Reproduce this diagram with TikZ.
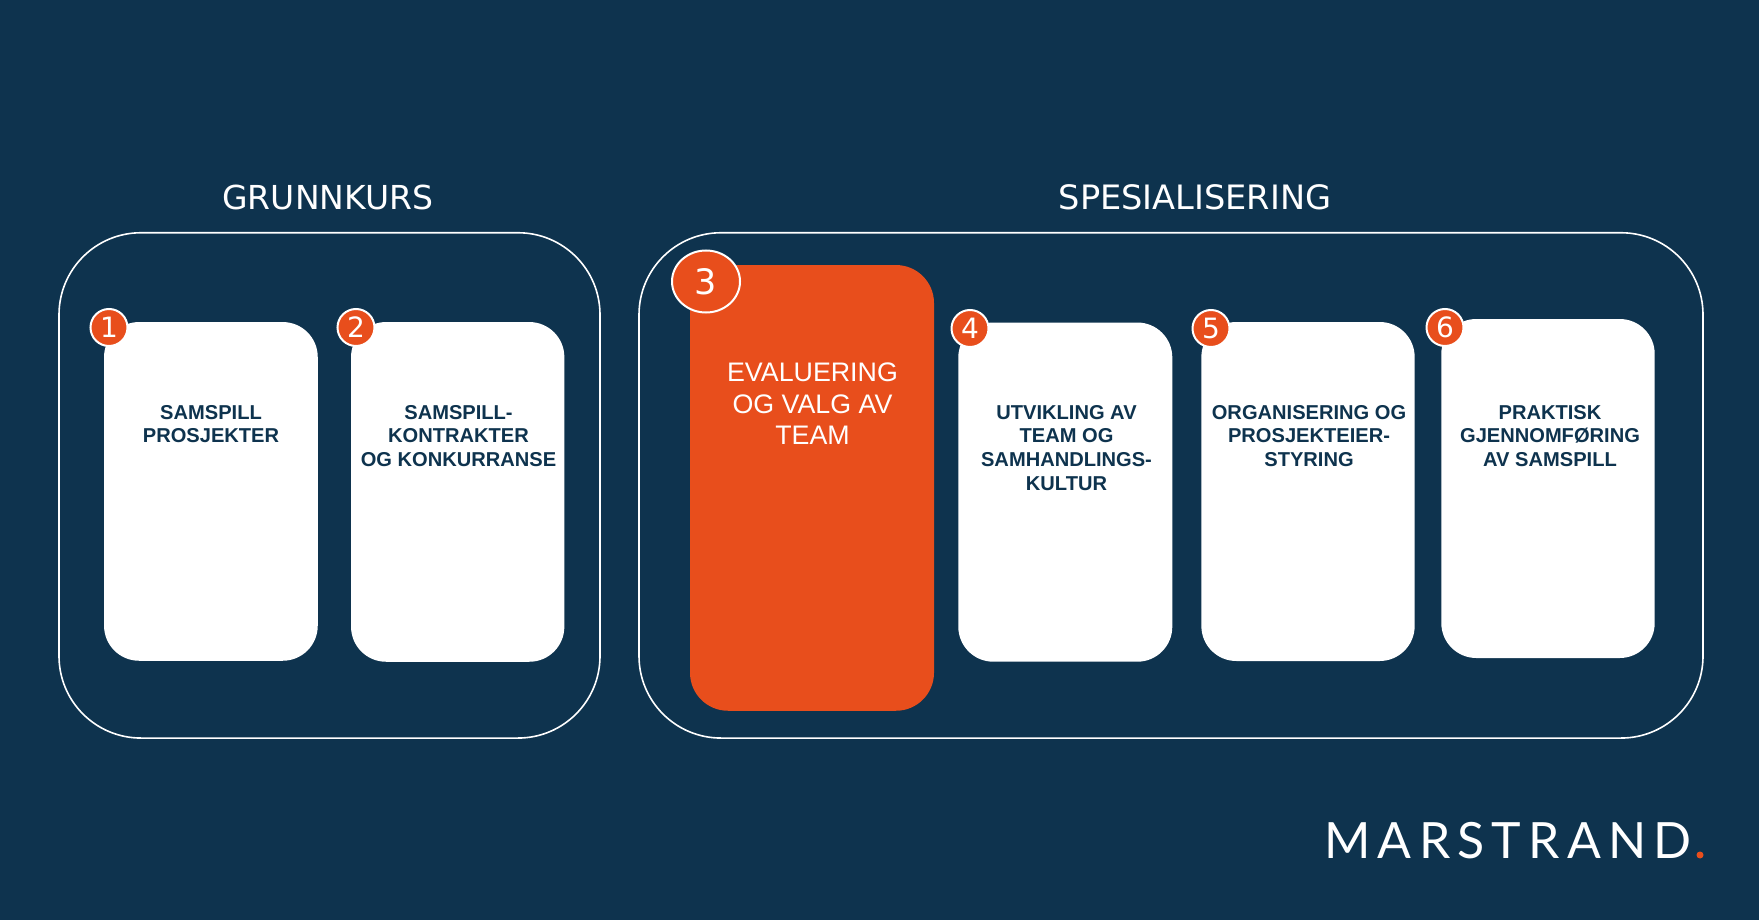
\documentclass[tikz,border=0pt]{standalone}
\usepackage{fontspec}
\usetikzlibrary{shapes.geometric}
\setmainfont{Liberation Sans}
\newfontfamily\titlefont{DejaVu Sans}
\newfontfamily\logofont[LetterSpace=14.5]{Lato}
\definecolor{navy}{RGB}{14,51,78}
\definecolor{mzorange}{RGB}{232,78,28}
\begin{document}
\begin{tikzpicture}[x=1pt,y=-1pt,
  outerbox/.style={draw=white, line width=1.6pt, rounded corners=82pt, inner sep=0pt},
  cardbox/.style={fill=white, rounded corners=35pt, inner sep=0pt},
  badge/.style={circle, fill=mzorange, draw=white, line width=2pt, minimum size=37pt, inner sep=0pt, text=white, font=\titlefont\fontsize{28}{28}\selectfont},
  cardtext/.style={anchor=north, align=center, inner sep=0pt, text=navy, font=\bfseries\fontsize{20.1}{23.7}\selectfont},
  titletext/.style={anchor=base, inner sep=0pt, text=white, font=\titlefont\fontsize{33}{33}\selectfont}
]
\fill[navy] (0,0) rectangle (1759,920);
\useasboundingbox (0,0) rectangle (1759,920);

% titles
\node[titletext] (tg) at (327.8,210) {GRUNNKURS};
\node[titletext, font=\titlefont\fontsize{33.6}{33.6}\selectfont] (ts) at (1195,210) {SPESIALISERING};

% outer frames
\node[outerbox, minimum width=541pt, minimum height=505.3pt] (g) at (329.5,485.4) {};
\node[outerbox, minimum width=1064pt, minimum height=505.3pt] (s) at (1171,485.4) {};

% cards
\node[cardbox, minimum width=213.7pt, minimum height=338.7pt] (c1) at (210.9,491.4) {};
\node[cardbox, minimum width=213.3pt, minimum height=339.7pt] (c2) at (457.7,491.9) {};
\node[cardbox, fill=mzorange, rounded corners=38pt, minimum width=244pt, minimum height=445.7pt] (c3) at (812,487.9) {};
\node[cardbox, minimum width=214pt, minimum height=339.2pt] (c4) at (1065.3,492.1) {};
\node[cardbox, minimum width=213.3pt, minimum height=339pt] (c5) at (1308,491.5) {};
\node[cardbox, minimum width=213.4pt, minimum height=339pt] (c6) at (1548,488.5) {};

% badges
\node[badge] (b1) at (109,327.5) {1};
\node[badge] (b2) at (356,327.5) {2};
\node[badge, ellipse, minimum width=68pt, minimum height=62pt, font=\titlefont\fontsize{35}{35}\selectfont] (b3) at (706,281.5) {3};
\node[badge] (b4) at (970,328.5) {4};
\node[badge] (b5) at (1211,328.5) {5};
\node[badge] (b6) at (1445,327.5) {6};

% card texts
\node[cardtext] (t1) at (211,405) {SAMSPILL\\PROSJEKTER};
\node[cardtext] (t2) at (458.5,405) {SAMSPILL-\\KONTRAKTER\\OG KONKURRANSE};
\node[cardtext, text=white, font=\mdseries\fontsize{26.8}{31.5}\selectfont] (t3) at (812.5,362.6) {EVALUERING\\OG VALG AV\\TEAM};
\node[cardtext] (t4) at (1066.5,405) {UTVIKLING AV\\TEAM OG\\SAMHANDLINGS-\\KULTUR};
\node[cardtext] (t5) at (1309,405) {ORGANISERING OG\\PROSJEKTEIER-\\STYRING};
\node[cardtext] (t6) at (1550,405) {PRAKTISK\\GJENNOMFØRING\\AV SAMSPILL};

% logo
\node[anchor=base west, inner sep=0pt, text=white, font=\logofont\fontsize{50}{50}\selectfont] (logo) at (1324,858) {MARSTRAND};
\node[circle, fill=mzorange, minimum size=7pt, inner sep=0pt] (dot) at (1700,855) {};
\end{tikzpicture}
\end{document}
